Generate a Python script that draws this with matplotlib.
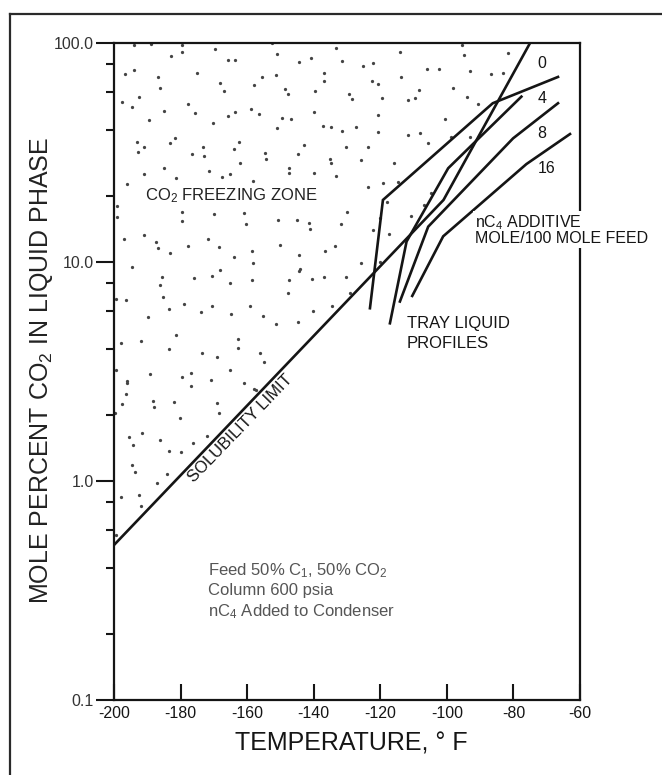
"""CO2 freezing zone chart: tray liquid profiles with nC4 additive vs. solubility limit."""

import numpy as np
import matplotlib
matplotlib.use("Agg")
import matplotlib.pyplot as plt  # noqa: E402
from matplotlib.lines import Line2D  # noqa: E402
from matplotlib.ticker import FixedLocator, FixedFormatter, NullFormatter  # noqa: E402

plt.rcParams["font.family"] = ["Liberation Sans", "DejaVu Sans"]
plt.rcParams["mathtext.fontset"] = "custom"
plt.rcParams["mathtext.rm"] = "Liberation Sans"
plt.rcParams["mathtext.it"] = "Liberation Sans:italic"
plt.rcParams["mathtext.bf"] = "Liberation Sans:bold"

# solubility limit (temperature F, mole % CO2)
sol_temp = [-200, -101, -75]
sol_pct = [0.51, 19.2, 100]

# tray liquid profiles, one per nC4 additive level
p0_temp = [-123.1, -119.2, -86.2, -66.6]
p0_pct = [6.15, 19.2, 53.1, 70.0]
p4_temp = [-117.1, -112.1, -99.6, -77.6]
p4_pct = [5.25, 12.4, 26.8, 56.9]
p8_temp = [-114.1, -105.6, -80.1, -66.6]
p8_pct = [6.6, 14.5, 36.7, 53.1]
p16_temp = [-110.4, -101.1, -76.1, -63.0]
p16_pct = [7.0, 13.1, 28.0, 38.4]

nc4_labels = ["0", "4", "8", "16"]
nc4_label_pct = [80.7, 55.8, 38.7, 26.8]

x_ticks = [-200, -180, -160, -140, -120, -100, -80, -60]
y_major = [0.1, 1.0, 10.0, 100.0]
y_major_labels = ["0.1", "1.0", "10.0", "100.0"]
y_minor = [0.2, 0.4, 0.6, 0.8, 2, 4, 6, 8, 20, 40, 60, 80]

# stipple marks of the freezing zone (temperature, log10 of mole %)
dots = [
    (-193.9, 1.991), (-189.0, 1.994), (-179.5, 1.991), (-169.6, 1.973), (-152.5, 1.998),
    (-133.3, 1.979), (-95.5, 1.991),
    (-182.9, 1.942), (-179.7, 1.957), (-165.8, 1.921), (-163.7, 1.922), (-150.9, 1.948),
    (-144.3, 1.913), (-140.9, 1.933), (-131.4, 1.919), (-125.3, 1.895), (-122.1, 1.910),
    (-114.1, 1.960), (-94.9, 1.945), (-81.6, 1.956),
    (-196.6, 1.858), (-193.9, 1.877), (-186.7, 1.843), (-186.1, 1.793), (-175.1, 1.864),
    (-168.1, 1.819), (-167.1, 1.782), (-158.0, 1.807), (-155.4, 1.846), (-151.3, 1.855),
    (-148.5, 1.788), (-147.7, 1.766), (-139.6, 1.782), (-136.9, 1.861), (-136.9, 1.826),
    (-129.3, 1.767), (-128.5, 1.744), (-122.5, 1.826), (-120.6, 1.811), (-113.9, 1.846),
    (-111.6, 1.740), (-108.4, 1.785), (-106.0, 1.880), (-102.5, 1.880), (-98.0, 1.796),
    (-94.0, 1.753), (-93.0, 1.872), (-86.6, 1.857), (-83.2, 1.861),
    (-197.5, 1.732), (-194.7, 1.706), (-192.4, 1.755), (-177.9, 1.721), (-185.1, 1.689),
    (-175.6, 1.679), (-165.8, 1.667), (-163.7, 1.683), (-158.7, 1.699), (-156.3, 1.674),
    (-150.9, 1.613), (-149.6, 1.659), (-146.8, 1.653), (-139.9, 1.683), (-137.3, 1.622),
    (-134.8, 1.618), (-131.6, 1.600), (-127.4, 1.618), (-119.6, 1.750), (-120.6, 1.671),
    (-109.5, 1.747), (-90.7, 1.720),
    (-189.5, 1.648), (-170.3, 1.633), (-120.6, 1.592), (-111.6, 1.580), (-108.2, 1.590),
    (-105.7, 1.542), (-100.6, 1.653), (-98.7, 1.572), (-93.0, 1.572),
    (-193.1, 1.549), (-192.7, 1.501), (-190.9, 1.527), (-183.2, 1.542), (-181.7, 1.568),
    (-176.6, 1.492), (-173.4, 1.527), (-173.0, 1.484), (-163.9, 1.516), (-162.3, 1.549),
    (-162.0, 1.454), (-154.7, 1.499), (-154.2, 1.469), (-147.5, 1.428), (-143.0, 1.534),
    (-144.7, 1.492), (-135.0, 1.470), (-134.8, 1.450), (-130.4, 1.527), (-125.7, 1.466),
    (-123.6, 1.524), (-116.0, 1.450),
    (-196.2, 1.356), (-190.9, 1.400), (-185.1, 1.428), (-181.4, 1.385), (-171.5, 1.417),
    (-167.5, 1.390), (-165.2, 1.402), (-158.2, 1.371), (-147.5, 1.405), (-139.9, 1.405),
    (-133.3, 1.394), (-123.6, 1.344), (-119.2, 1.359), (-114.8, 1.367),
    (-199.0, 1.257), (-199.0, 1.207), (-179.7, 1.227), (-179.7, 1.189), (-170.0, 1.218),
    (-160.8, 1.225), (-160.4, 1.174), (-150.6, 1.192), (-144.9, 1.192), (-141.4, 1.177),
    (-141.1, 1.152), (-131.9, 1.174), (-130.1, 1.227), (-122.1, 1.146), (-120.2, 1.199),
    (-117.9, 1.275), (-117.4, 1.128), (-110.7, 1.210), (-104.8, 1.317), (-106.9, 1.260),
    (-197.1, 1.104), (-190.9, 1.123), (-187.4, 1.090), (-186.7, 1.062), (-183.2, 1.043),
    (-177.9, 1.075), (-171.8, 1.104), (-168.4, 1.067), (-163.9, 1.021), (-158.6, 1.052),
    (-158.2, 0.994), (-150.0, 1.078), (-144.3, 1.032), (-144.0, 0.968), (-136.7, 1.052),
    (-133.5, 1.073), (-125.9, 0.994), (-120.2, 1.001),
    (-194.7, 0.976), (-185.7, 0.933), (-186.3, 0.895), (-176.0, 0.925), (-170.5, 0.936),
    (-168.1, 0.963), (-165.2, 0.903), (-158.5, 0.918), (-147.5, 0.918), (-147.8, 0.860),
    (-144.5, 0.959), (-140.5, 0.921), (-136.9, 0.933), (-130.4, 0.930), (-129.1, 0.860),
    (-199.4, 0.831), (-196.5, 0.828), (-189.9, 0.747), (-185.2, 0.842), (-183.5, 0.785),
    (-178.9, 0.808), (-173.9, 0.770), (-170.6, 0.799), (-164.8, 0.761), (-159.1, 0.799),
    (-155.1, 0.755), (-151.3, 0.717), (-144.7, 0.728), (-140.2, 0.778), (-134.4, 0.801),
    (-197.9, 0.632), (-191.8, 0.641), (-183.5, 0.603), (-181.4, 0.668), (-173.7, 0.583),
    (-169.0, 0.565), (-162.7, 0.647), (-162.7, 0.606), (-156.1, 0.583),
    (-199.4, 0.507), (-196.2, 0.457), (-189.3, 0.487), (-179.5, 0.476), (-177.0, 0.495),
    (-170.9, 0.461), (-165.2, 0.507), (-154.8, 0.545), (-157.2, 0.415),
    (-196.2, 0.449), (-196.5, 0.397), (-197.5, 0.352), (-188.2, 0.367), (-188.0, 0.336),
    (-182.0, 0.362), (-180.1, 0.286), (-177.0, 0.434), (-169.0, 0.355), (-168.4, 0.312),
    (-160.8, 0.449), (-157.8, 0.419), (-199.8, 0.309), (-195.6, 0.199), (-194.3, 0.164),
    (-191.5, 0.221), (-186.1, 0.187), (-183.5, 0.139), (-180.0, 0.134), (-176.2, 0.175),
    (-172.2, 0.206), (-194.7, 0.073), (-193.7, 0.043), (-187.0, -0.008), (-184.1, 0.030),
    (-197.9, -0.074), (-192.4, -0.064), (-191.8, -0.114), (-199.4, -0.247),
]

INK = "#151515"
LW = 1.9

fig = plt.figure(figsize=(6.62, 7.75), dpi=100)
ax = fig.add_axes([0.1722, 0.0968, 0.7039, 0.8477])
ax.set_yscale("log")
ax.set_xlim(-200, -60)
ax.set_ylim(0.1, 100)

# stipple
dot_t = np.array([d[0] for d in dots])
dot_v = 10 ** np.array([d[1] for d in dots])
ax.scatter(dot_t, dot_v, s=5.5, color="#444444", marker="o", linewidths=0, zorder=1)

ax.plot(sol_temp, sol_pct, color=INK, lw=LW, solid_capstyle="butt", zorder=2)
for t, v in ((p0_temp, p0_pct), (p4_temp, p4_pct), (p8_temp, p8_pct), (p16_temp, p16_pct)):
    ax.plot(t, v, color=INK, lw=LW, solid_joinstyle="miter", zorder=2)

for lab, v in zip(nc4_labels, nc4_label_pct):
    ax.text(-72.8, v, lab, fontsize=11.5, color=INK, ha="left", va="center")

# annotations
ax.text(-190.7, 20.0, "CO$_2$ FREEZING ZONE", fontsize=12, color="#222222",
        ha="left", va="center")
ax.text(-112.0, 5.24, "TRAY LIQUID", fontsize=12, color=INK, ha="left", va="center")
ax.text(-112.0, 4.23, "PROFILES", fontsize=12, color=INK, ha="left", va="center")
for v, s in ((15.2, "nC$_4$ ADDITIVE"), (12.8, "MOLE/100 MOLE FEED")):
    ax.text(-91.6, v, s, fontsize=11.5, color=INK, ha="left", va="center", zorder=5,
            clip_on=False,
            bbox=dict(facecolor="white", edgecolor="none", pad=1.5))
ax.text(-161.9, 1.73, "SOLUBILITY LIMIT", fontsize=12, color=INK, rotation=46,
        rotation_mode="anchor", ha="center", va="center")

note_color = "#555555"
ax.text(-171.8, 0.388, "Feed 50% C$_1$, 50% CO$_2$", fontsize=12, color=note_color,
        ha="left", va="center")
ax.text(-171.8, 0.315, "Column 600 psia", fontsize=12, color=note_color,
        ha="left", va="center")
ax.text(-171.8, 0.252, "nC$_4$ Added to Condenser", fontsize=12, color=note_color,
        ha="left", va="center")

# axes styling
for sp in ax.spines.values():
    sp.set_linewidth(1.6)
    sp.set_color(INK)

ax.xaxis.set_major_locator(FixedLocator(x_ticks))
ax.xaxis.set_major_formatter(FixedFormatter([str(t) for t in x_ticks]))
ax.xaxis.set_minor_locator(FixedLocator([]))
ax.tick_params(axis="x", which="major", direction="in", length=11.5, width=1.5,
               pad=4, labelsize=11.5, colors=INK, top=False)

ax.yaxis.set_major_locator(FixedLocator(y_major))
ax.yaxis.set_major_formatter(FixedFormatter(y_major_labels))
ax.yaxis.set_minor_locator(FixedLocator(y_minor))
ax.yaxis.set_minor_formatter(NullFormatter())
ax.tick_params(axis="y", which="major", direction="out", length=13, width=1.5,
               pad=1.5, labelsize=11.5, labelcolor="#333333", color=INK, right=False)
ax.tick_params(axis="y", which="minor", direction="out", length=6, width=1.5,
               color=INK, right=False)

fig.text(0.530, 0.040, "TEMPERATURE, \u00b0 F", fontsize=18, color=INK,
         ha="center", va="center")
fig.text(0.062, 0.5226, "MOLE PERCENT CO$_2$ IN LIQUID PHASE", fontsize=18,
         color="#222222", rotation=90, ha="center", va="center")

# outer frame (top and left edges of the clipped figure panel)
fig.add_artist(Line2D([0.0151, 1.0], [0.982, 0.982], transform=fig.transFigure,
                      color="#2a2a2a", lw=1.6))
fig.add_artist(Line2D([0.0151, 0.0151], [0.0, 0.982], transform=fig.transFigure,
                      color="#2a2a2a", lw=1.6))

fig.savefig("out.png", dpi=100, facecolor="white")
